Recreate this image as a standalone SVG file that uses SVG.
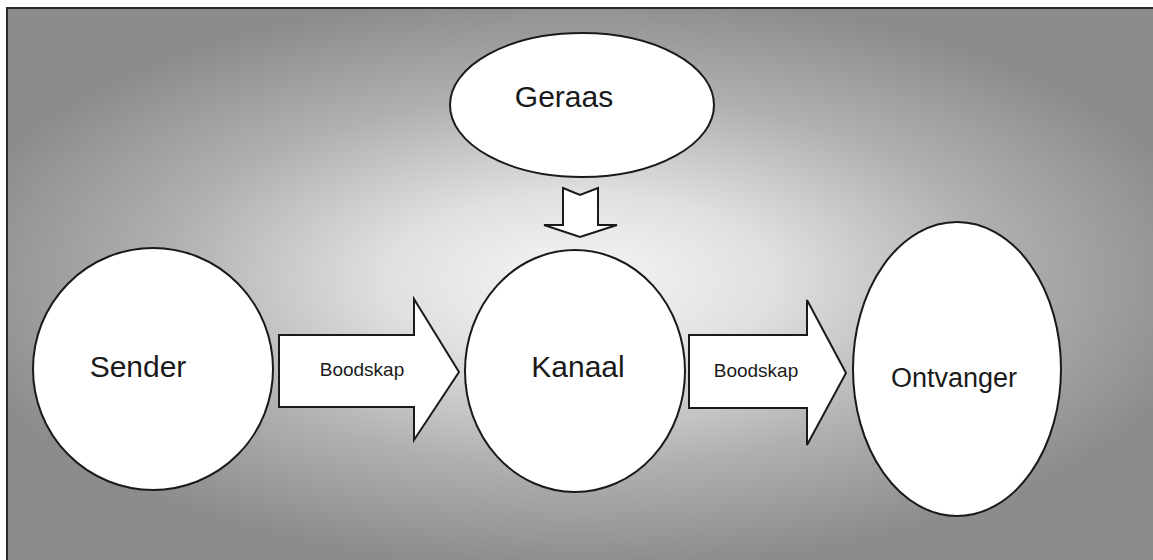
<svg xmlns="http://www.w3.org/2000/svg" width="1153" height="560" viewBox="0 0 1153 560">
  <style>
    .shape { fill: #ffffff; stroke: #1a1a1a; stroke-width: 2; }
    .big { font-family: "Liberation Sans", Arial, sans-serif; font-size: 30px; fill: #1a1a1a; text-anchor: middle; }
    .small { font-family: "Liberation Sans", Arial, sans-serif; font-size: 19px; fill: #1a1a1a; text-anchor: middle; }
  </style>
  <defs>
    <radialGradient id="bg" cx="580" cy="280" r="640" gradientUnits="userSpaceOnUse" gradientTransform="translate(580 280) scale(1 0.45) translate(-580 -280)">
      <stop offset="0" stop-color="#f6f6f6"/>
      <stop offset="0.3" stop-color="#e0e0e0"/>
      <stop offset="0.65" stop-color="#b0b0b0"/>
      <stop offset="1" stop-color="#8c8c8c"/>
    </radialGradient>
  </defs>
  <rect x="0" y="0" width="1153" height="560" fill="#ffffff"/>
  <rect x="7" y="8" width="1160" height="570" fill="url(#bg)" stroke="#2a2a2a" stroke-width="2"/>

  <g id="connectors">
    <path class="shape" d="M563,188 L580,195 L598,188 L598,225 L617,225 L580,237 L544,225 L563,225 Z"/>
    <path class="shape" d="M279,335 L414,335 L414,299 L459,372 L414,440 L414,407 L279,407 Z"/>
    <path class="shape" d="M689,335 L807,335 L807,300 L846,373 L807,445 L807,408 L689,408 Z"/>
    <text class="small" x="362" y="376">Boodskap</text>
    <text class="small" x="756" y="377">Boodskap</text>
  </g>

  <g id="geraas">
    <ellipse class="shape" cx="582" cy="105" rx="132" ry="72"/>
    <text class="big" x="564" y="107">Geraas</text>
  </g>
  <g id="sender">
    <ellipse class="shape" cx="153" cy="369" rx="120" ry="121"/>
    <text class="big" x="138" y="377">Sender</text>
  </g>
  <g id="kanaal">
    <ellipse class="shape" cx="575" cy="371" rx="110" ry="121"/>
    <text class="big" x="578" y="377">Kanaal</text>
  </g>
  <g id="ontvanger">
    <ellipse class="shape" cx="957" cy="369" rx="104" ry="147"/>
    <text class="big" x="954" y="387" style="font-size:27px">Ontvanger</text>
  </g>
</svg>
